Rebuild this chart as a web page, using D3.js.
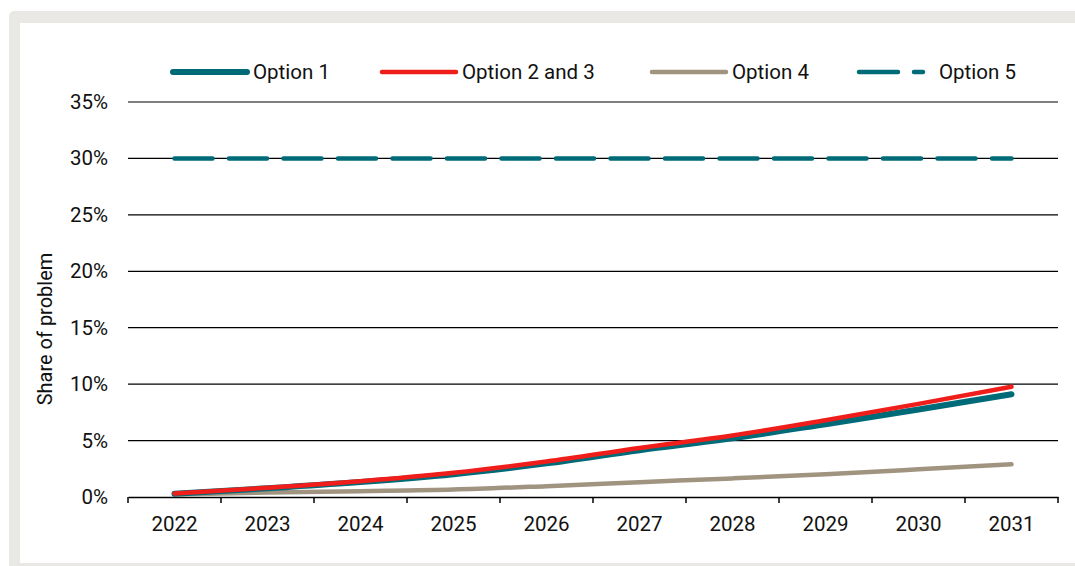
<!DOCTYPE html>
<html><head><meta charset="utf-8">
<script src="https://cdn.jsdelivr.net/npm/d3@7"></script>
<style>
html,body{margin:0;padding:0;background:#fff;}
svg{display:block;font-family:Roboto,"Liberation Sans",sans-serif;}
</style></head>
<body>
<svg id="chart" width="1075" height="566"></svg>
<script>
const years = ["2022","2023","2024","2025","2026","2027","2028","2029","2030","2031"];
const option1 = [0.28, 0.78, 1.32, 2.02, 2.98, 4.15, 5.20, 6.45, 7.75, 9.10];
const option23 = [0.32, 0.82, 1.40, 2.15, 3.15, 4.35, 5.45, 6.80, 8.25, 9.77];
const option4 = [0.22, 0.40, 0.52, 0.66, 0.96, 1.31, 1.65, 2.02, 2.45, 2.90];
const option5 = [30, 30, 30, 30, 30, 30, 30, 30, 30, 30];
const yTicks = [0, 5, 10, 15, 20, 25, 30, 35];
const seriesNames = ["Option 1", "Option 2 and 3", "Option 4", "Option 5"];

const series = [
  {name: seriesNames[0], values: option1, color: "#006b78", width: 6, dash: null},
  {name: seriesNames[1], values: option23, color: "#f01e1a", width: 4.5, dash: null},
  {name: seriesNames[2], values: option4, color: "#a09480", width: 4.5, dash: null},
  {name: seriesNames[3], values: option5, color: "#006b78", width: 4.5, dash: "38,16.5"}
];

const FS = 20.5;
const svg = d3.select("#chart");
// frame
svg.append("rect").attr("x", 9).attr("y", 11).attr("width", 1100).attr("height", 600)
  .attr("rx", 5).attr("fill", "#e9e8e4");
svg.append("rect").attr("x", 20).attr("y", 23).attr("width", 1100).attr("height", 540)
  .attr("fill", "#fff");

const pLeft = 128, pRight = 1058, pTop = 102, pBottom = 497;
const x = d3.scaleBand().domain(years).range([pLeft, pRight]).padding(0);
const y = d3.scaleLinear().domain([0, 35]).range([pBottom, pTop]);
const xc = d => x(d) + x.bandwidth() / 2;

// gridlines
svg.append("g").selectAll("line").data(yTicks.filter(t => t > 0)).join("line")
  .attr("x1", pLeft).attr("x2", pRight).attr("y1", d => y(d)).attr("y2", d => y(d))
  .attr("stroke", "#000").attr("stroke-width", 1.2);

// y axis labels
const yAxis = d3.axisLeft(y).tickValues(yTicks).tickFormat(d => d + "%").tickSize(0).tickPadding(20);
const gy = svg.append("g").attr("transform", `translate(${pLeft},0)`).call(yAxis);
gy.select(".domain").remove();
gy.selectAll("text").attr("font-size", FS).attr("fill", "#111").attr("font-family", "Roboto, sans-serif");

// x axis
const gx = svg.append("g").attr("transform", `translate(0,${pBottom})`)
  .call(d3.axisBottom(x).tickSize(0).tickPadding(19.5));
gx.select(".domain").attr("stroke", "#000").attr("stroke-width", 1.5);
gx.selectAll("text").attr("font-size", FS).attr("fill", "#111").attr("font-family", "Roboto, sans-serif");
// boundary ticks
const bounds = years.map(d => x(d)).concat([pRight]);
svg.append("g").selectAll("line").data(bounds).join("line")
  .attr("x1", d => d).attr("x2", d => d).attr("y1", pBottom).attr("y2", pBottom + 6)
  .attr("stroke", "#000").attr("stroke-width", 1.5);

// y title
svg.append("text").attr("transform", "translate(52,329) rotate(-90)")
  .attr("text-anchor", "middle").attr("font-size", 20).attr("fill", "#111")
  .text("Share of problem");

// lines
const line = d3.line().x((d, i) => xc(years[i])).y(d => y(d)).curve(d3.curveMonotoneX);
const drawOrder = [3, 2, 0, 1];
drawOrder.forEach(i => {
  const s = series[i];
  svg.append("path").attr("d", line(s.values)).attr("fill", "none")
    .attr("stroke", s.color).attr("stroke-width", s.width)
    .attr("stroke-linecap", "round")
    .attr("stroke-dasharray", s.dash);
});

// legend
const legendX = [173, 382, 652, 859];
const ly = 72;
series.forEach((s, i) => {
  const g = svg.append("g");
  if (s.dash) {
    g.append("line").attr("x1", legendX[i]).attr("x2", legendX[i] + 39).attr("y1", ly).attr("y2", ly)
      .attr("stroke", s.color).attr("stroke-width", s.width).attr("stroke-linecap", "round");
    g.append("line").attr("x1", legendX[i] + 55).attr("x2", legendX[i] + 64).attr("y1", ly).attr("y2", ly)
      .attr("stroke", s.color).attr("stroke-width", s.width).attr("stroke-linecap", "round");
  } else {
    g.append("line").attr("x1", legendX[i]).attr("x2", legendX[i] + 74).attr("y1", ly).attr("y2", ly)
      .attr("stroke", s.color).attr("stroke-width", s.width).attr("stroke-linecap", "round");
  }
  g.append("text").attr("x", legendX[i] + 80).attr("y", ly + 7)
    .attr("font-size", FS).attr("fill", "#111").text(s.name);
});
</script>
</body></html>
